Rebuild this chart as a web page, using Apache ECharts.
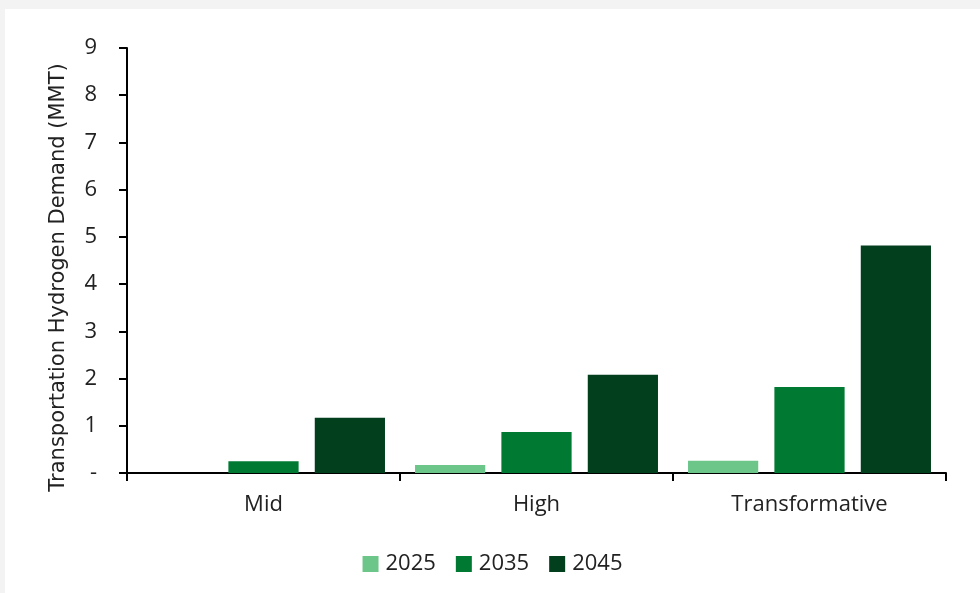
<!DOCTYPE html>
<html>
<head>
<meta charset="UTF-8">
<title>Transportation Hydrogen Demand</title>
<script type="text/javascript" src="https://cdn.jsdelivr.net/npm/echarts@6/dist/echarts.min.js"></script>
<style>
  html, body { margin: 0; padding: 0; background: #f3f3f3; }
  #main { position: absolute; left: 5px; top: 9px; width: 975px; height: 584px; background: #fff; }
</style>
</head>
<body>
<div id="main"></div>
<script type="text/javascript">
// scenarios on the x axis
var scenarios = ['Mid', 'High', 'Transformative'];
// demand in MMT, one array per year
var years = ['2025', '2035', '2045'];
var d2025 = [0, 0.17, 0.26];
var d2035 = [0.25, 0.87, 1.82];
var d2045 = [1.17, 2.08, 4.82];
var colors = ['#6cc68a', '#007a33', '#023f1d'];

var chart = echarts.init(document.getElementById('main'));
var labelFont = '"Open Sans", sans-serif';

function bar(name, data, color) {
    return {
        name: name,
        type: 'bar',
        data: data,
        barGap: '23%',
        barCategoryGap: '11%',
        itemStyle: { color: color }
    };
}

var option = {
    animation: false,
    grid: { left: 122, right: 34, top: 39, bottom: 120 },
    legend: {
        data: years,
        top: 539,
        left: 'center',
        itemWidth: 16,
        itemHeight: 16,
        itemGap: 20,
        icon: 'rect',
        textStyle: { fontFamily: labelFont, fontSize: 22, color: '#222', padding: [0, 0, 0, 2] }
    },
    xAxis: {
        type: 'category',
        data: scenarios,
        axisLine: { lineStyle: { color: '#000', width: 2 } },
        axisTick: { show: true, length: 8, lineStyle: { color: '#000', width: 2 } },
        axisLabel: { margin: 21, fontFamily: labelFont, fontSize: 22, color: '#222' }
    },
    yAxis: {
        type: 'value',
        min: 0,
        max: 9,
        interval: 1,
        name: 'Transportation Hydrogen Demand (MMT)',
        nameLocation: 'middle',
        nameGap: 58,
        nameTextStyle: { fontFamily: '"DejaVu Sans", sans-serif', fontSize: 21, color: '#222', padding: [0, 34, 0, 0] },
        axisLine: { show: true, lineStyle: { color: '#000', width: 2 } },
        axisTick: { show: true, length: 8, lineStyle: { color: '#000', width: 2 } },
        splitLine: { show: false },
        axisLabel: {
            margin: 30,
            fontFamily: labelFont,
            fontSize: 22,
            color: '#222',
            formatter: function (v) { return v === 0 ? '-' : v; }
        }
    },
    series: [
        bar(years[0], d2025, colors[0]),
        bar(years[1], d2035, colors[1]),
        bar(years[2], d2045, colors[2])
    ]
};

chart.setOption(option);
</script>
</body>
</html>
